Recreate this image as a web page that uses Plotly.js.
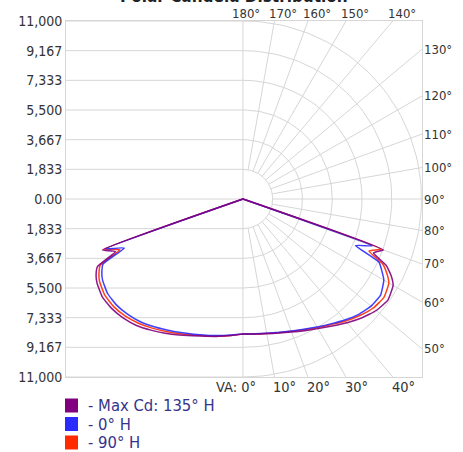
<!DOCTYPE html>
<html><head><meta charset="utf-8">
<script src="https://cdn.plot.ly/plotly-3.0.1.min.js"></script>
<style>html,body{margin:0;padding:0;background:#fff}</style>
</head><body><div id="chart" style="width:463px;height:452px"></div>
<script>
// ---- data (vertical angle in degrees, candela values) ----
const vAngles   = [0,5,10,15,20,25,30,35,40,45,50,55,60,62.5,65,67.5,70,72.5,90];
const maxCdRight = [8350,8380,8450,8580,8750,8980,9250,9580,9980,10380,10720,10900,10680,10300,9750,8700,9200,0,0];
const maxCdLeft  = [8350,8470,8620,8780,8990,9270,9580,9890,10200,10410,10540,10570,10380,10200,9890,8500,9210,0,0];
const h0Right    = [8350,8360,8420,8530,8680,8880,9130,9420,9760,10080,10300,10350,10020,9650,9250,7500,8470,0,0];
const h0Left     = [8350,8440,8570,8710,8890,9110,9350,9620,9880,10060,10180,10180,9990,9800,9500,7900,9000,0,0];
const h90Right   = [8350,8370,8430,8550,8700,8920,9180,9470,9840,10180,10480,10600,10380,10000,9500,8400,9050,0,0];
const h90Left    = [8350,8460,8600,8750,8940,9190,9460,9740,10020,10240,10370,10380,10200,10000,9700,8200,9100,0,0];

const seriesNames  = ["- Max Cd: 135\u00b0 H", "- 0\u00b0 H", "- 90\u00b0 H"];
const seriesColors = ["#800080", "#2b2bff", "#ff2a00"];

const radialRings = [1833.33, 3666.67, 5500, 7333.33, 9166.67, 11000];
const yTickVals = [11000, 9166.67, 7333.33, 5500, 3666.67, 1833.33, 0, -1833.33, -3666.67, -5500, -7333.33, -9166.67, -11000];
const yTickText = ["11,000","9,167","7,333","5,500","3,667","1,833","0.00","1,833","3,667","5,500","7,333","9,167","11,000"];
const rayAngles = [10,20,30,40,50,60,70,80,90,100,110,120,130,140,150,160,170];
const topLabelAngles = [180,170,160,150,140];
const topLabels = ["180\u00b0","170\u00b0","160\u00b0","150\u00b0","140\u00b0"];
const rightLabelAngles = [130,120,110,100,90,80,70,60,50];
const rightLabels = ["130\u00b0","120\u00b0","110\u00b0","100\u00b0","90\u00b0","80\u00b0","70\u00b0","60\u00b0","50\u00b0"];
const bottomLabelAngles = [0,10,20,30,40];
const bottomLabels = ["VA: 0\u00b0","10\u00b0","20\u00b0","30\u00b0","40\u00b0"];
const titleText = "Polar Candela Distribution";

// ---- layout constants ----
const W = 463, H = 452;
const PL = 66, PT = 21, PW = 356, PH = 356;
const xRange = [-10900, 11030];
const yRange = [-11000, 11000];
const FONT = "'DejaVu Sans Condensed', 'DejaVu Sans', sans-serif";
const gridColor = "#d6d6d6";
const rad = d => d * Math.PI / 180;
const pxX = p => (p - PL) / PW;
const pxY = p => (PT + PH - p) / PH;

// ---- grid traces ----
const gx = [], gy = [];
yTickVals.forEach(v => { gx.push(xRange[0], 0, null); gy.push(v, v, null); });
gx.push(0, 0, null); gy.push(yRange[0], yRange[1], null);
radialRings.forEach(r => {
  for (let a = 0; a <= 180; a += 2) { gx.push(r * Math.sin(rad(a))); gy.push(-r * Math.cos(rad(a))); }
  gx.push(null); gy.push(null);
});
function hit(a) {
  const dx = Math.sin(rad(a)), dy = -Math.cos(rad(a));
  let t = Infinity;
  if (dx > 1e-9) t = Math.min(t, xRange[1] / dx);
  if (dy > 1e-9) t = Math.min(t, yRange[1] / dy);
  if (dy < -1e-9) t = Math.min(t, yRange[0] / dy);
  return [t * dx, t * dy];
}
rayAngles.forEach(a => {
  const r0 = radialRings[0];
  const p = hit(a);
  gx.push(r0 * Math.sin(rad(a)), p[0], null);
  gy.push(-r0 * Math.cos(rad(a)), p[1], null);
});

const traces = [{
  x: gx, y: gy, mode: "lines", line: {color: gridColor, width: 1},
  hoverinfo: "skip", showlegend: false
}];

function curve(left, right) {
  const xs = [], ys = [];
  for (let i = vAngles.length - 1; i >= 0; i--) { xs.push(-left[i] * Math.sin(rad(vAngles[i]))); ys.push(-left[i] * Math.cos(rad(vAngles[i]))); }
  for (let i = 0; i < vAngles.length; i++) { xs.push(right[i] * Math.sin(rad(vAngles[i]))); ys.push(-right[i] * Math.cos(rad(vAngles[i]))); }
  return [xs, ys];
}
const seriesData = [[maxCdLeft, maxCdRight], [h0Left, h0Right], [h90Left, h90Right]];
[2, 1, 0].forEach(i => {
  const c = curve(seriesData[i][0], seriesData[i][1]);
  traces.push({x: c[0], y: c[1], mode: "lines", name: seriesNames[i],
    line: {color: seriesColors[i], width: 1.5, shape: "spline", smoothing: 0.4}, opacity: 0.9,
    hoverinfo: "skip", showlegend: false});
});

// ---- annotations ----
const ann = [];
const shapes = [];
const lblFont = {family: FONT, size: 13, color: "#333333"};
const botFont = {family: FONT, size: 14.5, color: "#333333"};
topLabelAngles.forEach((a, i) => {
  const p = hit(a);
  ann.push({x: p[0], y: p[1], xref: "x", yref: "y", text: topLabels[i], showarrow: false,
    xanchor: "left", yanchor: "bottom", xshift: a === 180 ? -13 : -7, yshift: -2, font: lblFont});
});
rightLabelAngles.forEach((a, i) => {
  const p = hit(a);
  ann.push({x: p[0], y: p[1], xref: "x", yref: "y", text: rightLabels[i], showarrow: false,
    xanchor: "left", yanchor: "middle", xshift: 0, font: lblFont});
});
bottomLabelAngles.forEach((a, i) => {
  const p = hit(a);
  ann.push({x: p[0], y: p[1], xref: "x", yref: "y", text: bottomLabels[i], showarrow: false,
    xanchor: i === 0 ? "right" : "left", yanchor: "top", xshift: i === 0 ? 15 : -3, yshift: 0, font: botFont});
});
ann.push({x: pxX(234), y: pxY(-4), xref: "paper", yref: "paper", text: "<b>" + titleText + "</b>", showarrow: false,
  xanchor: "center", yanchor: "middle", font: {family: FONT, size: 17, color: "#222222"}});

// ---- legend (swatches + labels) ----
const legRowY = [405.5, 424, 442.5];
seriesNames.forEach((name, i) => {
  const cy = legRowY[i];
  shapes.push({type: "rect", xref: "paper", yref: "paper", x0: pxX(65), x1: pxX(78), y0: pxY(cy - 7), y1: pxY(cy + 7),
    fillcolor: seriesColors[i], line: {width: 0}});
  ann.push({x: pxX(86), y: pxY(cy), xref: "paper", yref: "paper", text: name, showarrow: false,
    xanchor: "left", yanchor: "middle", font: {family: FONT, size: 16.5, color: "#34348c"}});
});

const layout = {
  width: W, height: H,
  margin: {l: PL, r: W - PL - PW, t: PT, b: H - PT - PH, pad: 0},
  paper_bgcolor: "#ffffff", plot_bgcolor: "#ffffff",
  showlegend: false,
  xaxis: {range: xRange, showgrid: false, zeroline: false, showticklabels: false, ticks: "",
    showline: true, mirror: true, linecolor: gridColor, linewidth: 1, fixedrange: true},
  yaxis: {range: yRange, tickvals: yTickVals, ticktext: yTickText, showgrid: false, zeroline: false,
    ticks: "", showline: true, mirror: true, linecolor: gridColor, linewidth: 1, fixedrange: true,
    tickfont: {family: FONT, size: 14, color: "#333333"}},
  annotations: ann,
  shapes: shapes
};

Plotly.newPlot("chart", traces, layout, {staticPlot: true, displayModeBar: false});
</script>
</body></html>
